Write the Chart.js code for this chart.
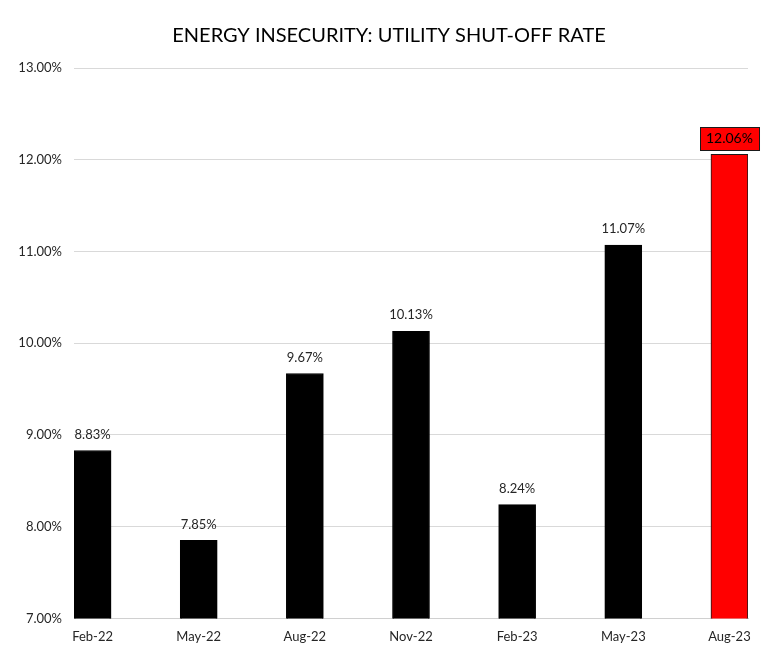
<!DOCTYPE html>
<html>
<head>
<meta charset="utf-8">
<script src="https://cdn.jsdelivr.net/npm/chart.js@4/dist/chart.umd.min.js"></script>
<style>
  html, body { margin: 0; padding: 0; background: #fff; }
  #wrap { width: 772px; height: 647px; }
</style>
</head>
<body>
<div id="wrap"><canvas id="shutoff"></canvas></div>
<script>
var categories = ["Feb-22", "May-22", "Aug-22", "Nov-22", "Feb-23", "May-23", "Aug-23"];
var shutoffRate = [8.83, 7.85, 9.67, 10.13, 8.24, 11.07, 12.06];
var yTicks = [7, 8, 9, 10, 11, 12, 13];
var highlightIndex = 6;

var labelFont = "Lato";

// value labels above the bars, last one boxed in red
var barLabels = {
  id: "barLabels",
  afterDatasetsDraw: function (chart) {
    var ctx = chart.ctx;
    var meta = chart.getDatasetMeta(0);
    ctx.save();
    ctx.textAlign = "center";
    ctx.textBaseline = "middle";
    meta.data.forEach(function (bar, i) {
      var txt = shutoffRate[i].toFixed(2) + "%";
      var ty = bar.y - 16;
      if (i === highlightIndex) {
        ctx.font = "14px " + labelFont;
        var w = ctx.measureText(txt).width + 12;
        var top = Math.round(ty - 11.5) + 0.5;
        var left = Math.round(bar.x - w / 2) + 0.5;
        ctx.fillStyle = "#ff0000";
        ctx.fillRect(left, top, w, 23);
        ctx.strokeStyle = "#1a1a1a";
        ctx.lineWidth = 1;
        ctx.strokeRect(left, top, w, 23);
        ctx.fillStyle = "#000";
      } else {
        ctx.font = "13px " + labelFont;
        ctx.fillStyle = "#262626";
      }
      ctx.fillText(txt, bar.x, ty);
    });
    ctx.restore();
  }
};

new Chart(document.getElementById("shutoff").getContext("2d"), {
  type: "bar",
  data: {
    datasets: [{
      label: "Utility shut-off rate",
      data: shutoffRate.map(function (v, i) { return { x: i, y: v }; }),
      backgroundColor: shutoffRate.map(function (v, i) { return i === highlightIndex ? "#ff0000" : "#000000"; }),
      borderColor: shutoffRate.map(function (v, i) { return i === highlightIndex ? "#1a1a1a" : "#000000"; }),
      borderWidth: 1,
      barThickness: 37
    }]
  },
  options: {
    responsive: true,
    maintainAspectRatio: false,
    animation: false,
    layout: {
      padding: { left: 15, right: 9, top: 0, bottom: -9 }
    },
    plugins: {
      legend: { display: false },
      tooltip: { enabled: false },
      title: {
        display: true,
        text: "ENERGY INSECURITY: UTILITY SHUT-OFF RATE",
        color: "#000",
        font: { size: 20, family: labelFont, weight: "normal" },
        padding: { top: 24, bottom: 20 }
      }
    },
    scales: {
      x: {
        type: "linear",
        offset: false,
        min: -0.175,
        max: categories.length - 1 + 0.175,
        afterBuildTicks: function (s) {
          s.ticks = categories.map(function (c, i) { return { value: i }; });
        },
        grid: { display: false, drawTicks: false, offset: false },
        border: { display: true, color: "#d0d0d0", width: 1 },
        ticks: {
          padding: 11,
          color: "#262626",
          font: { size: 13, family: labelFont },
          maxRotation: 0,
          autoSkip: false,
          callback: function (v) { return categories[v]; }
        }
      },
      y: {
        min: yTicks[0],
        max: yTicks[yTicks.length - 1],
        afterFit: function (s) { s.width = 59; },
        afterBuildTicks: function (s) {
          s.ticks = yTicks.map(function (v) { return { value: v }; });
        },
        grid: { color: "#d9d9d9", drawTicks: false },
        border: { display: false },
        ticks: {
          padding: 12,
          color: "#262626",
          font: { size: 13, family: labelFont },
          callback: function (v) { return v.toFixed(2) + "%"; }
        }
      },
      // empty right-hand gutter so the title stays centred like the original
      yRight: {
        position: "right",
        display: true,
        afterFit: function (s) { s.width = 15; },
        grid: { display: false, drawTicks: false },
        border: { display: false },
        ticks: { display: false }
      }
    }
  },
  plugins: [barLabels]
});
</script>
</body>
</html>
